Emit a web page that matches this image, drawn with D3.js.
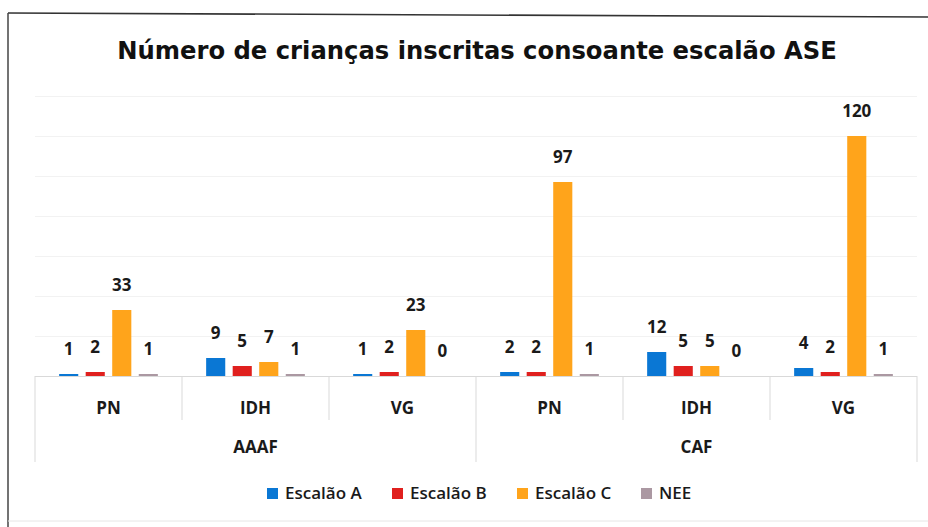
<!DOCTYPE html>
<html>
<head>
<meta charset="utf-8">
<script src="https://cdn.jsdelivr.net/npm/d3@7"></script>
<style>
  body { margin: 0; background: #fff; }
  svg { display: block; }
</style>
</head>
<body>
<svg id="chart"></svg>
<script>
// dados do gráfico
const groups = ["AAAF", "CAF"];
const subcats = ["PN", "IDH", "VG"];
const seriesNames = ["Escalão A", "Escalão B", "Escalão C", "NEE"];
const escalaoA = [1, 9, 1, 2, 12, 4];
const escalaoB = [2, 5, 2, 2, 5, 2];
const escalaoC = [33, 7, 23, 97, 5, 120];
const nee = [1, 1, 0, 1, 0, 1];
const yTicks = [0, 20, 40, 60, 80, 100, 120, 140];
const colors = ["#0a77d4", "#e0201e", "#ffa41b", "#ab98a2"];

const width = 928;
const height = 527;
const svg = d3.select("#chart").attr("width", width).attr("height", height);

// moldura (digitalização)
svg.append("line").attr("x1", 8).attr("y1", 13).attr("x2", 928).attr("y2", 17)
  .attr("stroke", "#333").attr("stroke-width", 1.6);
svg.append("line").attr("x1", 8).attr("y1", 13).attr("x2", 8).attr("y2", 527)
  .attr("stroke", "#444").attr("stroke-width", 1.5);
svg.append("line").attr("x1", 8).attr("y1", 521).attr("x2", 928).attr("y2", 521)
  .attr("stroke", "#e6e6e6").attr("stroke-width", 1);

// título (ajustado à largura ~720px)
const title = svg.append("text")
  .attr("x", 477).attr("y", 59)
  .attr("text-anchor", "middle")
  .attr("font-family", "'DejaVu Sans', sans-serif")
  .attr("font-weight", "bold")
  .attr("font-size", 22)
  .attr("fill", "#111")
  .text("Número de crianças inscritas consoante escalão ASE");
const tw = title.node().getComputedTextLength();
title.attr("font-size", 22 * 720 / tw);

const marge = { left: 35, right: 11, top: 96, bottom: 151 };
const plotW = width - marge.left - marge.right;
const base = height - marge.bottom;

const cats = d3.range(groups.length * subcats.length).map(String);
const x0 = d3.scaleBand().domain(cats).range([marge.left, marge.left + plotW]);
const x1 = d3.scaleBand().domain(d3.range(seriesNames.length).map(String))
  .range([0, x0.bandwidth()]).paddingInner(0.28).paddingOuter(0.91);
const yScale = d3.scaleLinear().domain([0, 140]).range([base, marge.top]);

// grelha
const gy = svg.append("g").attr("transform", `translate(${marge.left},0)`)
  .call(d3.axisLeft(yScale).tickValues(yTicks).tickSize(-plotW).tickFormat(""));
gy.select(".domain").remove();
gy.selectAll(".tick line").attr("stroke", "#f2f2f2");
gy.selectAll(".tick").filter(d => d === 0).select("line").attr("stroke", "#d9d9d9");

const values = [escalaoA, escalaoB, escalaoC, nee];
const rows = cats.map((c, i) => ({ c, v: values.map(s => s[i]) }));

const gs = svg.append("g").selectAll("g").data(rows).enter().append("g")
  .attr("transform", d => `translate(${x0(d.c)},0)`);

gs.selectAll("rect").data(d => d.v).enter().append("rect")
  .attr("x", (d, i) => x1(String(i)))
  .attr("y", d => yScale(d))
  .attr("width", x1.bandwidth())
  .attr("height", d => base - yScale(d))
  .attr("fill", (d, i) => colors[i]);

gs.selectAll("text").data(d => d.v).enter().append("text")
  .attr("x", (d, i) => x1(String(i)) + x1.bandwidth() / 2)
  .attr("y", d => yScale(d) - 19)
  .attr("text-anchor", "middle")
  .attr("font-family", "'Open Sans', sans-serif")
  .attr("font-weight", "bold")
  .attr("font-size", 17)
  .attr("fill", "#1a1a1a")
  .text(d => d);

// eixo de categorias (dois níveis)
const axisG = svg.append("g");
const edges = cats.map(c => x0(c)).concat([marge.left + plotW]);
edges.forEach((xe, i) => {
  const outer = i % subcats.length === 0;
  axisG.append("line")
    .attr("x1", xe).attr("x2", xe)
    .attr("y1", base).attr("y2", outer ? base + 86 : base + 44)
    .attr("stroke", "#d9d9d9");
});
axisG.selectAll(".sub").data(cats).enter().append("text")
  .attr("x", c => x0(c) + x0.bandwidth() / 2)
  .attr("y", base + 38)
  .attr("text-anchor", "middle")
  .attr("font-family", "'Open Sans', sans-serif")
  .attr("font-weight", "bold")
  .attr("font-size", 17)
  .attr("fill", "#1a1a1a")
  .text((c, i) => subcats[i % subcats.length]);
axisG.selectAll(".grp").data(groups).enter().append("text")
  .attr("x", (g, i) => {
    const a = x0(cats[i * subcats.length]);
    const b = x0(cats[(i + 1) * subcats.length - 1]) + x0.bandwidth();
    return (a + b) / 2;
  })
  .attr("y", base + 77)
  .attr("text-anchor", "middle")
  .attr("font-family", "'Open Sans', sans-serif")
  .attr("font-weight", "bold")
  .attr("font-size", 17)
  .attr("fill", "#1a1a1a")
  .text(g => g);

// legenda
const legendX = [267, 392, 517, 641];
const lg = svg.append("g").selectAll("g").data(seriesNames).enter().append("g")
  .attr("transform", (d, i) => `translate(${legendX[i]},493)`);
lg.append("rect").attr("x", 0).attr("y", -5).attr("width", 11).attr("height", 11)
  .attr("fill", (d, i) => colors[i]);
lg.append("text").attr("x", 18).attr("y", 6)
  .attr("font-family", "'Open Sans', sans-serif")
  .attr("font-weight", "600")
  .attr("font-size", 17)
  .attr("fill", "#1a1a1a")
  .text(d => d);
</script>
</body>
</html>
